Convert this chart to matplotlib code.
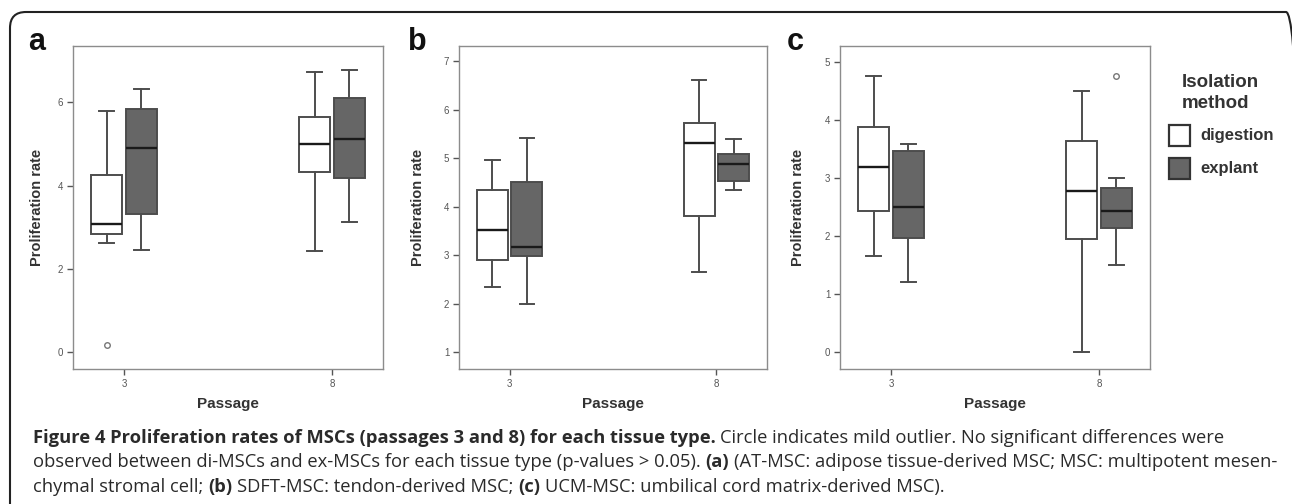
import matplotlib
matplotlib.use('Agg')
import matplotlib.pyplot as plt
from matplotlib.patches import FancyBboxPatch, Rectangle
from matplotlib.transforms import IdentityTransform

W, H = 1292, 504

# Data: (whislo, q1, med, q3, whishi) for passage 3 and 8
passages = ['3', '8']
methods = ['digestion', 'explant']

a_digestion = [(2.62, 2.84, 3.07, 4.25, 5.79), (2.42, 4.33, 5.00, 5.64, 6.73)]
a_explant = [(2.46, 3.33, 4.91, 5.85, 6.31), (3.13, 4.19, 5.13, 6.11, 6.77)]
a_dig_fliers = [[0.17], []]
a_exp_fliers = [[], []]

b_digestion = [(2.34, 2.90, 3.52, 4.34, 4.97), (2.66, 3.81, 5.32, 5.74, 6.62)]
b_explant = [(2.00, 2.99, 3.17, 4.51, 5.41), (4.34, 4.53, 4.88, 5.09, 5.40)]
b_dig_fliers = [[], []]
b_exp_fliers = [[], []]

c_digestion = [(1.66, 2.43, 3.18, 3.87, 4.76), (0.00, 1.94, 2.78, 3.63, 4.49)]
c_explant = [(1.21, 1.97, 2.50, 3.47, 3.58), (1.50, 2.13, 2.43, 2.82, 3.00)]
c_dig_fliers = [[], []]
c_exp_fliers = [[], [4.76]]

a_yticks = [0, 2, 4, 6]
b_yticks = [1, 2, 3, 4, 5, 6, 7]
c_yticks = [0, 1, 2, 3, 4, 5]

fills = {'digestion': 'white', 'explant': '#666666'}
edge = '#4d4d4d'

# panel layout in pixels: left, top, right, bottom, ylim, ylabel offset
panels = [
    ('a', 73, 46, 383, 369, (-0.4, 7.35), a_yticks, a_digestion, a_explant, a_dig_fliers, a_exp_fliers, -0.094, 28),
    ('b', 459, 46, 767, 369, (0.65, 7.32), b_yticks, b_digestion, b_explant, b_dig_fliers, b_exp_fliers, -0.112, 408),
    ('c', 840, 46, 1150, 369, (-0.29, 5.27), c_yticks, c_digestion, c_explant, c_dig_fliers, c_exp_fliers, -0.113, 787),
]

fig = plt.figure(figsize=(W / 100, H / 100), dpi=100)
plt.rcParams['font.family'] = ['Liberation Sans', 'DejaVu Sans']


def make_stats(vals, fliers):
    out = []
    for (lo, q1, med, q3, hi), fl in zip(vals, fliers):
        out.append(dict(whislo=lo, q1=q1, med=med, q3=q3, whishi=hi, fliers=fl))
    return out


for (letter, l, t, r, b, ylim, yticks, dig, exp, dfl, efl, ylab_x, letter_x) in panels:
    ax = fig.add_axes([l / W, 1 - b / H, (r - l) / W, (b - t) / H])
    for name, vals, fl, off in [('digestion', dig, dfl, -0.083), ('explant', exp, efl, 0.083)]:
        pos = [i + off for i in range(len(passages))]
        ax.bxp(make_stats(vals, fl), positions=pos, widths=0.15, capwidths=0.07,
               patch_artist=True, manage_ticks=False,
               boxprops=dict(facecolor=fills[name], edgecolor=edge, linewidth=1.4),
               whiskerprops=dict(color=edge, linewidth=1.4),
               capprops=dict(color=edge, linewidth=1.4),
               medianprops=dict(color='#1a1a1a', linewidth=1.7),
               flierprops=dict(marker='o', markersize=4, markerfacecolor='none',
                               markeredgecolor='#777777', markeredgewidth=1.0))
    ax.set_xlim(-0.245, 1.245)
    ax.set_ylim(*ylim)
    ax.set_xticks(range(len(passages)))
    ax.set_xticklabels(passages)
    ax.set_yticks(yticks)
    ax.tick_params(direction='out', length=4, width=1, color='#555555',
                   labelsize=7, labelcolor='#555555', pad=3)
    for s in ax.spines.values():
        s.set_color('#8c8c8c')
        s.set_linewidth(1.0)
    ax.set_ylabel('Proliferation rate', fontsize=10.5, fontweight='bold', color='#333333')
    ax.yaxis.set_label_coords(ylab_x, 0.5)
    ax.set_xlabel('Passage', fontsize=11, fontweight='bold', color='#333333')
    ax.xaxis.set_label_coords(0.5, -28 / (b - t))
    ax.xaxis.label.set_va('top')
    fig.text(letter_x / W, 1 - 50 / H, letter, fontsize=22, fontweight='bold',
             color='#111111', va='baseline', ha='left')

# legend
fig.text(1182 / W, 1 - 87 / H, 'Isolation', fontsize=13.5, fontweight='bold',
         color='#333333', va='baseline')
fig.text(1182 / W, 1 - 108 / H, 'method', fontsize=13.5, fontweight='bold',
         color='#333333', va='baseline')
for name, top in zip(methods, [125, 158]):
    fig.add_artist(Rectangle((1169 / W, 1 - (top + 21) / H), 21 / W, 21 / H,
                             transform=fig.transFigure, facecolor=fills[name],
                             edgecolor='#333333', linewidth=1.6))
    fig.text(1200 / W, 1 - (top + 10.5) / H, name, fontsize=12, fontweight='bold',
             color='#333333', va='center')

# frame with rounded corners (right side runs off the picture)
fig.add_artist(FancyBboxPatch((10, -40), 1292, H - 12 + 40,
                              boxstyle='round,pad=0,rounding_size=16',
                              transform=IdentityTransform(), fill=False,
                              edgecolor='#222222', linewidth=1.5))

# caption, bold and regular pieces placed one after another
caption = [
    [("Figure 4 Proliferation rates of MSCs (passages 3 and 8) for each tissue type.", 'bold'),
     ("Circle indicates mild outlier. No significant differences were", 'normal')],
    [("observed between di-MSCs and ex-MSCs for each tissue type (p-values > 0.05).", 'normal'),
     ("(a)", 'bold'),
     ("(AT-MSC: adipose tissue-derived MSC; MSC: multipotent mesen-", 'normal')],
    [("chymal stromal cell;", 'normal'), ("(b)", 'bold'),
     ("SDFT-MSC: tendon-derived MSC;", 'normal'), ("(c)", 'bold'),
     ("UCM-MSC: umbilical cord matrix-derived MSC).", 'normal')],
]
baselines = [443, 467, 492]
cap_size = 13.2
renderer = fig.canvas.get_renderer()
sp = fig.text(0, 0, 'a a', fontsize=cap_size, family='Open Sans')
sp2 = fig.text(0, 0, 'aa', fontsize=cap_size, family='Open Sans')
space = sp.get_window_extent(renderer).width - sp2.get_window_extent(renderer).width
sp.remove()
sp2.remove()
for line, yb in zip(caption, baselines):
    x = 33
    for txt, wt in line:
        tt = fig.text(x / W, 1 - yb / H, txt, fontsize=cap_size, family='Open Sans',
                      fontweight=wt, color='#2a2a2a', va='baseline', ha='left')
        x += tt.get_window_extent(renderer).width + space

fig.savefig('out.png', dpi=100)
